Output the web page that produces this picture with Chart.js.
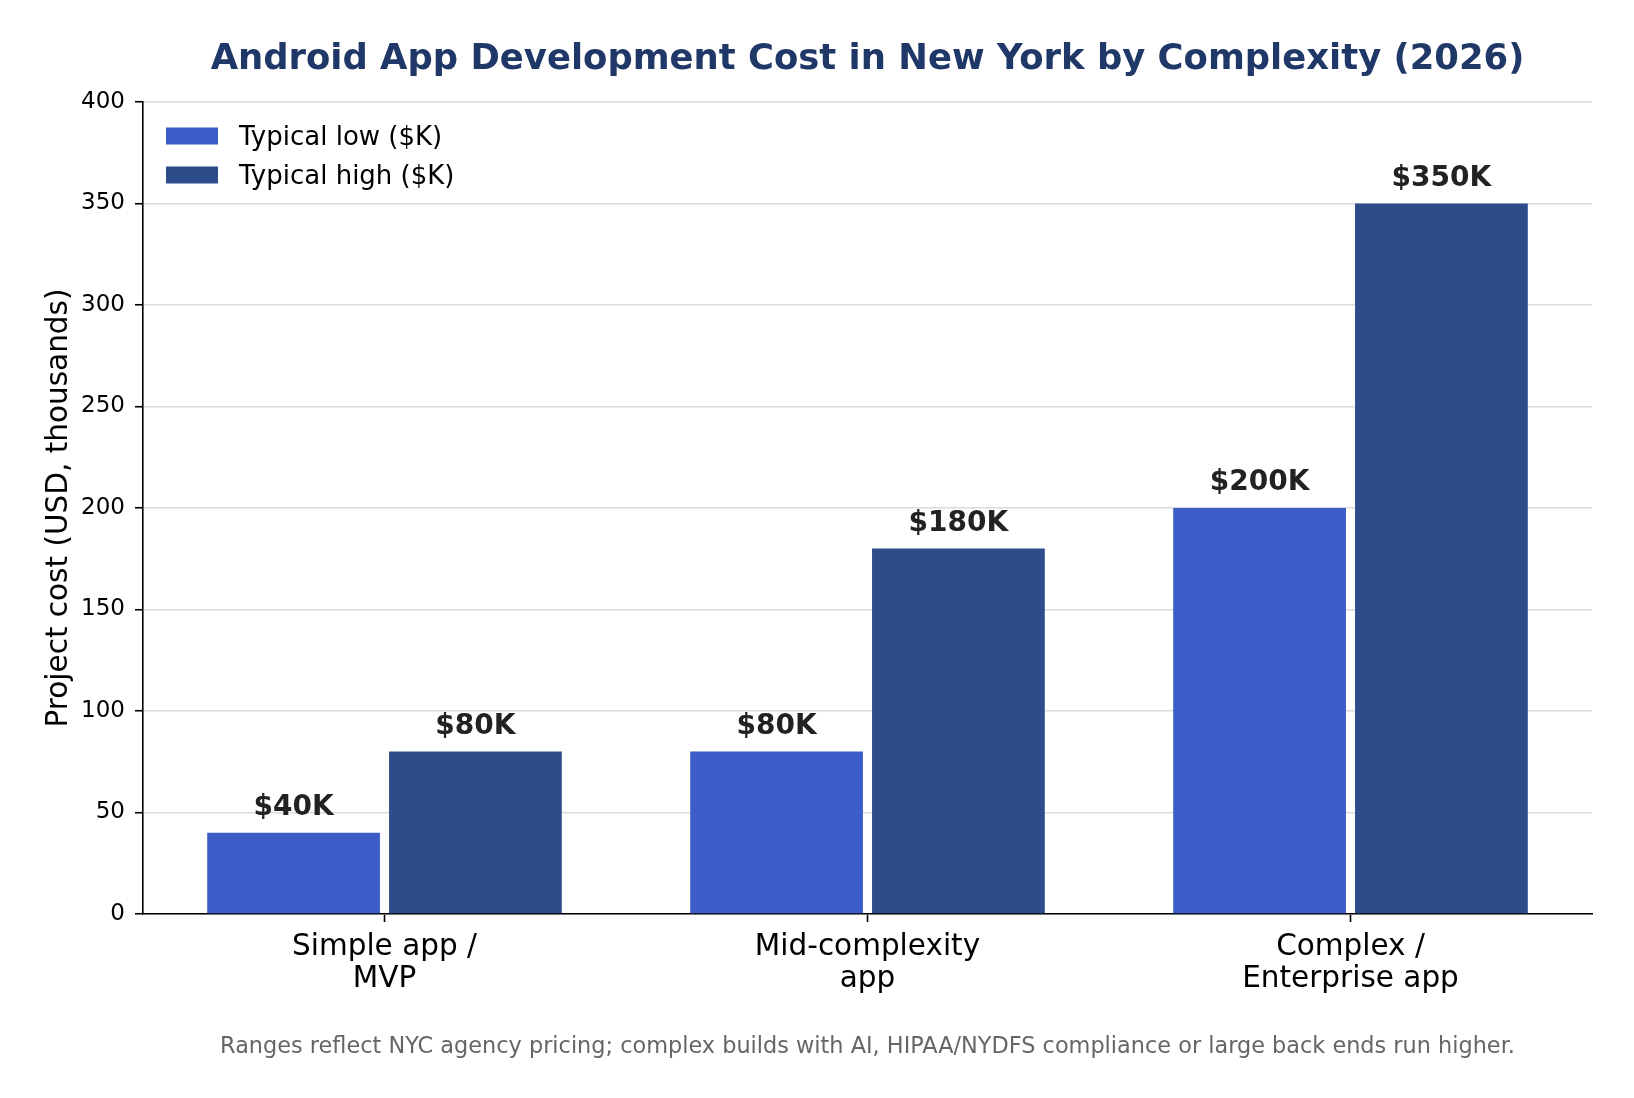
<!DOCTYPE html>
<html>
<head>
<meta charset="utf-8">
<script src="https://cdn.jsdelivr.net/npm/chart.js@4/dist/chart.umd.min.js"></script>
<style>
  body { margin: 0; background: #fff; }
  #wrap { width: 1634px; height: 1098px; }
</style>
</head>
<body>
<div id="wrap"><canvas id="myChart" width="1634" height="1098"></canvas></div>
<script>
// DONNEES DU GRAPHIQUE
var categories = [["Simple app /", "MVP"], ["Mid-complexity", "app"], ["Complex /", "Enterprise app"]];
var seriesNames = ["Typical low ($K)", "Typical high ($K)"];
var lowValues = [40, 80, 200];
var highValues = [80, 180, 350];
var yTicks = [0, 50, 100, 150, 200, 250, 300, 350, 400];

var titleText = "Android App Development Cost in New York by Complexity (2026)";
var noteText = "Ranges reflect NYC agency pricing; complex builds with AI, HIPAA/NYDFS compliance or large back ends run higher.";

var FONT = "'DejaVu Sans', 'Liberation Sans', sans-serif";

// TITRE + NOTE + LEGENDE + ETIQUETTES
var decorPlugin = {
    id: "decor",
    afterDraw: function(chart) {
        var ctx = chart.ctx;
        var area = chart.chartArea;
        var cx = (area.left + area.right) / 2;
        ctx.save();

        // titre
        ctx.fillStyle = "#1f3868";
        ctx.font = "bold 35.4px " + FONT;
        ctx.textAlign = "center";
        ctx.textBaseline = "middle";
        ctx.fillText(titleText, cx, 60);

        // note en bas
        ctx.fillStyle = "#666666";
        ctx.font = "22.4px " + FONT;
        ctx.fillText(noteText, cx, 1047);

        // etiquettes de valeurs
        ctx.fillStyle = "#222222";
        ctx.font = "bold 28px " + FONT;
        ctx.textBaseline = "alphabetic";
        chart.data.datasets.forEach(function(ds, i) {
            var meta = chart.getDatasetMeta(i);
            meta.data.forEach(function(bar, j) {
                ctx.fillText("$" + ds.data[j] + "K", bar.x, bar.y - 18);
            });
        });

        // legende
        ctx.textAlign = "left";
        ctx.textBaseline = "middle";
        ctx.font = "26px " + FONT;
        chart.data.datasets.forEach(function(ds, i) {
            var y = 136 + i * 39;
            ctx.fillStyle = ds.backgroundColor;
            ctx.fillRect(166, y - 8.5, 52, 17);
            ctx.fillStyle = "#000000";
            ctx.fillText(ds.label, 239, y + 2);
        });
        ctx.restore();
    }
};

new Chart(document.getElementById("myChart"), {
    type: "bar",
    data: {
        labels: categories,
        datasets: [{
            label: seriesNames[0],
            data: lowValues,
            backgroundColor: "#3c5dc8",
            categoryPercentage: 0.753,
            barPercentage: 0.95
        }, {
            label: seriesNames[1],
            data: highValues,
            backgroundColor: "#2d4c8a",
            categoryPercentage: 0.753,
            barPercentage: 0.95
        }]
    },
    plugins: [decorPlugin],
    options: {
        responsive: false,
        animation: false,
        devicePixelRatio: 1,
        layout: { padding: { top: 102, right: 42, left: 0, bottom: 0 } },
        plugins: {
            legend: { display: false },
            title: { display: false },
            tooltip: { enabled: false }
        },
        scales: {
            x: {
                z: 1,
                grid: {
                    display: true,
                    drawOnChartArea: false,
                    drawTicks: true,
                    offset: false,
                    tickLength: 8,
                    tickColor: "#000000",
                    tickWidth: 1.6
                },
                border: { display: true, color: "#000000", width: 1.6 },
                ticks: {
                    color: "#000000",
                    padding: 9,
                    maxRotation: 0,
                    font: { family: FONT, size: 29.5, lineHeight: 1.1 }
                },
                afterFit: function(scale) { scale.height = 184; }
            },
            y: {
                z: 1,
                min: 0,
                max: 400,
                afterBuildTicks: function(scale) {
                    scale.ticks = yTicks.map(function(v) { return { value: v }; });
                },
                grid: {
                    color: "rgba(210,210,210,0.8)",
                    lineWidth: 1.5,
                    tickLength: 8,
                    tickColor: "#000000",
                    tickWidth: 1.6
                },
                border: { display: true, color: "#000000", width: 1.6 },
                ticks: {
                    color: "#000000",
                    padding: 10,
                    font: { family: FONT, size: 23 }
                },
                title: {
                    display: true,
                    text: "Project cost (USD, thousands)",
                    color: "#000000",
                    padding: { top: 42, bottom: 0 },
                    font: { family: FONT, size: 29.5 }
                },
                afterFit: function(scale) { scale.width = 143; }
            }
        }
    }
});
</script>
</body>
</html>
